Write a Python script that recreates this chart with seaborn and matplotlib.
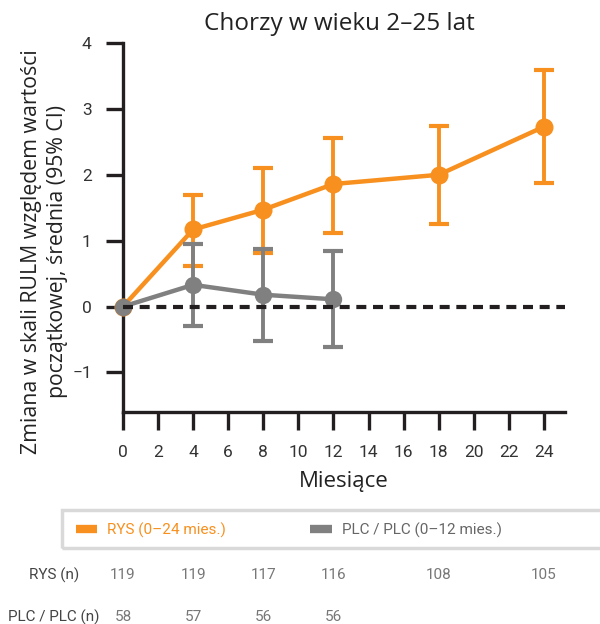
import numpy as np
import pandas as pd
import matplotlib
matplotlib.use("Agg")
import matplotlib.pyplot as plt
from matplotlib.lines import Line2D
from matplotlib.patches import Rectangle
import matplotlib.transforms as mtransforms
import seaborn as sns

# ---- data ----
rys_months = [0, 4, 8, 12, 18, 24]
rys_mean = [0.0, 1.17, 1.47, 1.86, 2.00, 2.73]
rys_lo = [0.0, 0.61, 0.82, 1.12, 1.25, 1.88]
rys_hi = [0.0, 1.70, 2.10, 2.56, 2.74, 3.59]

plc_months = [0, 4, 8, 12]
plc_mean = [0.0, 0.33, 0.18, 0.11]
plc_lo = [0.0, -0.30, -0.52, -0.62]
plc_hi = [0.0, 0.95, 0.87, 0.84]

rys_n = [119, 119, 117, 116, 108, 105]
plc_n = [58, 57, 56, 56]

x_ticks = list(range(0, 25, 2))
y_ticks = [-1, 0, 1, 2, 3, 4]

title = "Chorzy w wieku 2–25 lat"
ylabel = "Zmiana w skali RULM względem wartości\npoczątkowej, średnia (95% CI)"
xlabel = "Miesiące"
rys_label = "RYS (0–24 mies.)"
plc_label = "PLC / PLC (0–12 mies.)"
rys_row = "RYS (n)"
plc_row = "PLC / PLC (n)"

ORANGE = "#F7901E"
GRAY = "#808080"
DARK = "#231F20"

sns.set_theme(style="white")
plt.rcParams['font.family'] = ['Open Sans', 'DejaVu Sans']
COND = ['Roboto', 'DejaVu Sans']

fig = plt.figure(figsize=(6.0, 6.24), dpi=100)
W, H = 600, 624
ax = fig.add_axes([123 / W, 1 - 412 / H, 442 / W, 369 / H])

df_r = pd.DataFrame({"month": rys_months, "mean": rys_mean})
df_p = pd.DataFrame({"month": plc_months, "mean": plc_mean})

sns.lineplot(data=df_r, x="month", y="mean", color=ORANGE, lw=3.2, marker="o",
             markersize=13, markeredgewidth=0, ax=ax, zorder=3, clip_on=False)
r = np.array(rys_months) > 0
ax.errorbar(np.array(rys_months)[r], np.array(rys_mean)[r],
            yerr=[np.array(rys_mean)[r] - np.array(rys_lo)[r],
                  np.array(rys_hi)[r] - np.array(rys_mean)[r]],
            fmt="none", ecolor=ORANGE, elinewidth=2.8, capsize=7, capthick=3, zorder=3)

sns.lineplot(data=df_p, x="month", y="mean", color=GRAY, lw=3.2, marker="o",
             markersize=12.5, markeredgewidth=0, ax=ax, zorder=4, clip_on=False)
p = np.array(plc_months) > 0
ax.errorbar(np.array(plc_months)[p], np.array(plc_mean)[p],
            yerr=[np.array(plc_mean)[p] - np.array(plc_lo)[p],
                  np.array(plc_hi)[p] - np.array(plc_mean)[p]],
            fmt="none", ecolor=GRAY, elinewidth=2.8, capsize=7, capthick=3, zorder=4)

ax.axhline(0, color=DARK, lw=3.0, dashes=(2.4, 1.6), zorder=5, clip_on=False)

ax.set_xlim(0, 25.2)
ax.set_ylim(-1.6, 4)
ax.set_xticks(x_ticks)
ax.set_yticks(y_ticks)
ax.set_yticklabels([str(v).replace("-", "−") for v in y_ticks])
for s in ["top", "right"]:
    ax.spines[s].set_visible(False)
for s in ["left", "bottom"]:
    ax.spines[s].set_color(DARK)
    ax.spines[s].set_linewidth(2.4)
ax.tick_params(axis="both", which="major", direction="out", color=DARK,
               width=2.4, labelcolor="#333333", labelsize=12.5)
ax.tick_params(axis="y", length=12.5, pad=10, left=True)
ax.tick_params(axis="x", length=13, pad=11, bottom=True)
for lab in ax.get_xticklabels() + ax.get_yticklabels():
    lab.set_family(COND)

ax.set_xlabel(xlabel, fontsize=16, color="#222222")
ax.xaxis.set_label_coords(0.5, -(481 - 412) / 369)
ax.xaxis.label.set_va("center")
ax.set_ylabel(ylabel, fontsize=15.3, color="#222222", linespacing=1.3)
ax.yaxis.set_label_coords((68 - 123) / 442, (412 - 252) / 369)

fig.text(339 / W, 1 - 24 / H, title, fontsize=17.5, ha="center", va="center", color="#222222")

# legend box
fig.patches.append(Rectangle((62 / W, 1 - 548 / H), 560 / W, 38 / H,
                             transform=fig.transFigure, fill=False,
                             edgecolor="#D9D9D9", lw=2.5, clip_on=False))
handles = [Line2D([], [], color=ORANGE, lw=6, solid_capstyle="butt"),
           Line2D([], [], color=GRAY, lw=6, solid_capstyle="butt")]
leg = fig.legend(handles, [rys_label, plc_label], loc="center left",
                 bbox_to_anchor=(76 / W, 1 - 530 / H), ncol=2, frameon=False,
                 borderpad=0, borderaxespad=0,
                 handlelength=1.4, handletextpad=0.65, columnspacing=5.5,
                 prop={"family": COND, "size": 11})
leg.get_texts()[0].set_color(ORANGE)
leg.get_texts()[1].set_color("#666666")

# n table
trans = mtransforms.blended_transform_factory(ax.transData, fig.transFigure)
fig.text(54 / W, 1 - 575 / H, rys_row, ha="center", va="center", fontsize=11,
         family=COND, color="#444444")
fig.text(54 / W, 1 - 617 / H, plc_row, ha="center", va="center", fontsize=11,
         family=COND, color="#444444")
for m, n in zip(rys_months, rys_n):
    ax.text(m, 1 - 575 / H, str(n), transform=trans, ha="center", va="center",
            fontsize=11, family=COND, color="#777777")
for m, n in zip(plc_months, plc_n):
    ax.text(m, 1 - 617 / H, str(n), transform=trans, ha="center", va="center",
            fontsize=11, family=COND, color="#777777")

fig.savefig("out.png", dpi=100)
